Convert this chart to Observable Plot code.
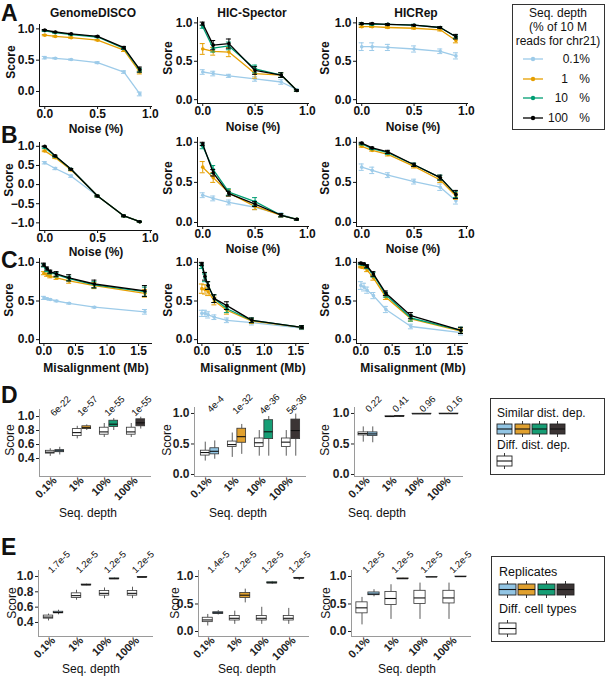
<!DOCTYPE html>
<html>
<head>
<meta charset="utf-8">
<script src="https://cdn.jsdelivr.net/npm/d3@7"></script>
<script src="https://cdn.jsdelivr.net/npm/@observablehq/plot@0.6"></script>
<style>
  html,body{margin:0;padding:0;background:#fff;}
  #fig{position:relative;width:606px;height:677px;overflow:hidden;font-family:"Liberation Sans",Arial,Helvetica,sans-serif;color:#111;}
  #fig svg{overflow:visible;}
  .lbl{position:absolute;white-space:pre;line-height:1;}
  .legend{position:absolute;border:1px solid #333;box-sizing:border-box;background:#fff;}
</style>
</head>
<body>
<div id="fig"></div>
<script>
// ---------------- DATA ----------------
const depths = ["0.1%", "1%", "10%", "100%"];
const lineColors = ["#9dcbe9", "#e69f00", "#009e73", "#000000"];
const boxColors = ["#92c5e4", "#e1a12f", "#169e75", "#3b3434"];
const methods = ["GenomeDISCO", "HIC-Spector", "HICRep"];
const noise = [0, 0.1, 0.25, 0.5, 0.75, 0.9];
const misalign = [0, 0.05, 0.1, 0.2, 0.4, 0.8, 1.6];
const noiseTicks = [0, 0.5, 1];
const misTicks = [0, 0.5, 1, 1.5];
const scoreTicks = [0, 0.5, 1];
const scoreTicksWide = [-1, -0.5, 0, 0.5, 1];
const scoreTicksDisco = [0.4, 0.6, 0.8, 1.0];

// Panel A (noise), rows = depths 0.1%, 1%, 10%, 100%
const A_disco = [[0.54,0.53,0.51,0.46,0.31,-0.04],[0.90,0.88,0.86,0.82,0.66,0.31],[0.97,0.94,0.91,0.87,0.69,0.34],[0.98,0.95,0.92,0.88,0.70,0.35]];
const A_disco_err = [[0.02,0.01,0.01,0.015,0.02,0.03],[0.01,0.01,0.01,0.01,0.02,0.03],[0.01,0.01,0.01,0.01,0.02,0.03],[0.01,0.01,0.01,0.01,0.02,0.04]];
const A_spector = [[0.36,0.34,0.31,0.27,0.23,0.13],[0.66,0.63,0.62,0.34,0.32,0.12],[0.95,0.67,0.70,0.40,0.32,0.12],[0.99,0.71,0.73,0.38,0.32,0.12]];
const A_spector_err = [[0.03,0.03,0.02,0.03,0.03,0.01],[0.07,0.05,0.06,0.06,0.03,0.01],[0.02,0.05,0.05,0.05,0.03,0.01],[0.02,0.06,0.06,0.05,0.03,0.01]];
const A_hicrep = [[0.69,0.69,0.68,0.66,0.63,0.57],[0.95,0.95,0.94,0.93,0.91,0.77],[0.99,0.98,0.98,0.97,0.94,0.82],[0.99,0.99,0.98,0.97,0.94,0.82]];
const A_hicrep_err = [[0.05,0.05,0.04,0.04,0.03,0.04],[0.01,0.01,0.01,0.01,0.015,0.03],[0.01,0.01,0.01,0.01,0.01,0.02],[0.01,0.01,0.01,0.01,0.01,0.03]];

// Panel B (noise, distance-effect corrected)
const B_disco = [[0.57,0.42,0.22,-0.30,-0.82,-0.97],[0.88,0.70,0.38,-0.30,-0.82,-0.97],[0.97,0.74,0.40,-0.30,-0.82,-0.97],[1.00,0.75,0.40,-0.30,-0.82,-0.97]];
const B_disco_err = [[0.03,0.03,0.03,0.02,0.02,0.01],[0.02,0.02,0.02,0.02,0.02,0.01],[0.02,0.02,0.02,0.02,0.02,0.01],[0.01,0.02,0.02,0.02,0.02,0.01]];
const B_spector = [[0.34,0.30,0.25,0.19,0.10,0.04],[0.69,0.56,0.37,0.20,0.09,0.04],[0.95,0.66,0.38,0.26,0.09,0.04],[0.98,0.62,0.36,0.23,0.09,0.04]];
const B_spector_err = [[0.03,0.03,0.03,0.03,0.02,0.01],[0.07,0.06,0.04,0.04,0.02,0.01],[0.03,0.05,0.04,0.05,0.02,0.01],[0.02,0.04,0.03,0.03,0.02,0.01]];
const B_hicrep = [[0.69,0.65,0.59,0.51,0.44,0.27],[0.95,0.90,0.85,0.70,0.53,0.33],[0.98,0.92,0.87,0.72,0.56,0.35],[0.99,0.93,0.88,0.72,0.56,0.35]];
const B_hicrep_err = [[0.04,0.04,0.03,0.03,0.04,0.04],[0.01,0.01,0.02,0.02,0.03,0.04],[0.01,0.01,0.02,0.02,0.03,0.04],[0.01,0.01,0.02,0.02,0.03,0.05]];

// Panel C (misalignment, Mb)
const C_disco = [[0.54,0.53,0.52,0.50,0.47,0.42,0.36],[0.86,0.84,0.82,0.80,0.76,0.70,0.60],[0.96,0.90,0.87,0.84,0.79,0.71,0.62],[0.97,0.92,0.88,0.85,0.80,0.72,0.63]];
const C_disco_err = [[0.02,0.01,0.01,0.01,0.01,0.01,0.03],[0.02,0.02,0.02,0.02,0.03,0.04,0.05],[0.02,0.02,0.02,0.03,0.03,0.04,0.06],[0.02,0.02,0.02,0.03,0.04,0.05,0.07]];
const C_spector = [[0.34,0.34,0.32,0.29,0.25,0.22,0.15],[0.66,0.65,0.62,0.50,0.38,0.24,0.16],[0.95,0.80,0.70,0.53,0.40,0.25,0.16],[0.98,0.82,0.70,0.53,0.44,0.25,0.16]];
const C_spector_err = [[0.04,0.04,0.04,0.03,0.03,0.03,0.02],[0.06,0.06,0.05,0.05,0.05,0.03,0.02],[0.03,0.05,0.05,0.05,0.05,0.03,0.02],[0.02,0.05,0.05,0.05,0.05,0.03,0.02]];
const C_hicrep = [[0.70,0.68,0.64,0.57,0.39,0.17,0.09],[0.94,0.93,0.90,0.80,0.55,0.27,0.11],[0.98,0.97,0.94,0.84,0.58,0.28,0.12],[0.99,0.98,0.95,0.85,0.60,0.31,0.12]];
const C_hicrep_err = [[0.05,0.05,0.04,0.04,0.04,0.03,0.03],[0.01,0.01,0.02,0.03,0.03,0.03,0.03],[0.01,0.01,0.02,0.03,0.03,0.04,0.04],[0.01,0.01,0.02,0.03,0.03,0.04,0.04]];

// Panel D box stats [low whisker, q1, median, q3, high whisker]
const D_disco_diff = [[0.43,0.47,0.49,0.51,0.54],[0.68,0.72,0.77,0.82,0.86],[0.70,0.74,0.78,0.84,0.90],[0.70,0.74,0.78,0.84,0.90]];
const D_disco_sim = [[0.45,0.49,0.51,0.52,0.56],[0.80,0.82,0.84,0.86,0.88],[0.80,0.85,0.89,0.94,0.97],[0.82,0.86,0.91,0.96,0.99]];
const D_spector_diff = [[0.22,0.31,0.36,0.39,0.53],[0.28,0.45,0.49,0.54,0.68],[0.30,0.45,0.52,0.59,0.72],[0.30,0.45,0.53,0.59,0.72]];
const D_spector_sim = [[0.25,0.33,0.38,0.43,0.55],[0.33,0.52,0.62,0.75,0.82],[0.30,0.58,0.70,0.89,0.95],[0.30,0.58,0.72,0.90,0.99]];
const D_hicrep_diff = [[0.53,0.64,0.67,0.69,0.78],[0.94,0.945,0.95,0.955,0.96],[0.99,0.992,0.994,0.996,0.998],[0.995,0.996,0.997,0.998,0.999]];
const D_hicrep_sim = [[0.52,0.63,0.665,0.69,0.78],[0.94,0.95,0.955,0.96,0.965],[0.99,0.992,0.994,0.996,0.998],[0.995,0.996,0.997,0.998,0.999]];
const D_pv_disco = ["6e-22", "1e-57", "1e-55", "1e-55"];
const D_pv_spector = ["4e-4", "1e-32", "4e-36", "5e-36"];
const D_pv_hicrep = ["0.22", "0.41", "0.96", "0.16"];

// Panel E box stats
const E_disco_diff = [[0.42,0.45,0.47,0.49,0.51],[0.69,0.72,0.75,0.78,0.82],[0.71,0.75,0.78,0.81,0.85],[0.71,0.75,0.78,0.81,0.86]];
const E_disco_sim = [[0.50,0.52,0.53,0.54,0.56],[0.88,0.885,0.89,0.895,0.90],[0.96,0.965,0.97,0.975,0.98],[0.985,0.988,0.99,0.992,0.995]];
const E_spector_diff = [[0.10,0.17,0.21,0.25,0.31],[0.13,0.20,0.24,0.28,0.37],[0.13,0.20,0.24,0.28,0.44],[0.13,0.20,0.24,0.28,0.42]];
const E_spector_sim = [[0.30,0.32,0.34,0.35,0.38],[0.52,0.61,0.66,0.70,0.77],[0.86,0.875,0.885,0.895,0.91],[0.93,0.965,0.97,0.975,0.98]];
const E_hicrep_diff = [[0.12,0.33,0.43,0.53,0.62],[0.22,0.48,0.60,0.72,0.85],[0.22,0.50,0.61,0.74,0.88],[0.22,0.51,0.61,0.74,0.88]];
const E_hicrep_sim = [[0.63,0.66,0.68,0.71,0.76],[0.95,0.955,0.96,0.965,0.97],[0.985,0.99,0.99,0.992,0.995],[0.995,0.997,0.998,0.999,1.0]];
const E_pv_disco = ["1.7e-5", "1.2e-5", "1.2e-5", "1.2e-5"];
const E_pv_spector = ["1.4e-5", "1.2e-5", "1.2e-5", "1.2e-5"];
const E_pv_hicrep = ["1.2e-5", "1.2e-5", "1.2e-5", "1.2e-5"];

// ---------------- DRAWING ----------------
const fig = document.getElementById("fig");
const FONT = '"Liberation Sans", Arial, Helvetica, sans-serif';
const fmt1 = d3.format(".1f");

function addText(str, x, y, {size = 12, weight = "normal", rotate = 0, anchor = "middle", color = "#111"} = {}) {
  const d = document.createElement("div");
  d.className = "lbl";
  d.textContent = str;
  const tx = anchor === "middle" ? -50 : anchor === "end" ? -100 : 0;
  d.style.left = x + "px";
  d.style.top = y + "px";
  d.style.fontSize = size + "px";
  d.style.fontWeight = weight;
  d.style.color = color;
  d.style.transform = `translate(${tx}%, -50%) rotate(${rotate}deg)`;
  fig.appendChild(d);
}
function place(el, left, top) {
  el.style.position = "absolute";
  el.style.left = left + "px";
  el.style.top = top + "px";
  fig.appendChild(el);
}

const LM = {l: 42, r: 8, t: 8, b: 22};
function linePanel(g, levels, vals, errs, xDomain, xTicks, yDomain, yTicks, cap) {
  const w = g.x1 - g.x0, h = g.yB - g.yT;
  const marks = [
    Plot.ruleX([xDomain[0]], {stroke: "#111", strokeWidth: 1}),
    Plot.ruleY([yDomain[0]], {stroke: "#111", strokeWidth: 1})
  ];
  depths.forEach((dep, i) => {
    const rows = levels.map((x, j) => ({x, y: vals[i][j], lo: vals[i][j] - errs[i][j], hi: vals[i][j] + errs[i][j]}));
    const c = lineColors[i];
    marks.push(
      Plot.ruleX(rows, {x: "x", y1: "lo", y2: "hi", stroke: c, strokeWidth: 1}),
      Plot.ruleY(rows, {y: "lo", x1: "x", x2: "x", insetLeft: -cap, insetRight: -cap, stroke: c, strokeWidth: 1}),
      Plot.ruleY(rows, {y: "hi", x1: "x", x2: "x", insetLeft: -cap, insetRight: -cap, stroke: c, strokeWidth: 1}),
      Plot.line(rows, {x: "x", y: "y", stroke: c, strokeWidth: 1.3}),
      Plot.dot(rows, {x: "x", y: "y", fill: c, r: 1.8})
    );
  });
  const svg = Plot.plot({
    width: w + LM.l + LM.r, height: h + LM.t + LM.b,
    marginLeft: LM.l, marginRight: LM.r, marginTop: LM.t, marginBottom: LM.b,
    style: {fontFamily: FONT, fontSize: "12px", fontWeight: "bold", color: "#111", background: "transparent", overflow: "visible"},
    x: {domain: xDomain, ticks: xTicks, tickFormat: fmt1, tickSize: 3, tickPadding: 0, label: null},
    y: {domain: yDomain, ticks: yTicks, tickFormat: fmt1, tickSize: 3, tickPadding: 2, label: null},
    marks
  });
  place(svg, g.x0 - LM.l, g.yT - LM.t);
}

const BM = {l: 42, r: 8, t: 30, b: 44};
function boxPanel(g, white, sim, pvals, yDomain, yTicks, boxW, pdy) {
  const w = g.x1 - g.x0, h = g.yB - g.yT;
  const half = w / depths.length / 2;
  const toRows = s => depths.map((cat, i) => ({cat, lo: s[i][0], q1: s[i][1], med: s[i][2], q3: s[i][3], hi: s[i][4]}));
  const wr = toRows(white), sr = toRows(sim);
  const pr = depths.map((cat, i) => ({cat, p: pvals[i]}));
  const boxMarks = (rows, fill, side) => {
    const iL = side < 0 ? half - boxW : half;
    const iR = side < 0 ? half : half - boxW;
    const dx = side * boxW / 2;
    return [
      Plot.ruleX(rows, {x: "cat", y1: "lo", y2: "q1", dx, stroke: "#333", strokeWidth: 0.8}),
      Plot.ruleX(rows, {x: "cat", y1: "q3", y2: "hi", dx, stroke: "#333", strokeWidth: 0.8}),
      Plot.barY(rows, {x: "cat", y1: "q1", y2: "q3", fill, stroke: "#333", strokeWidth: 0.8, insetLeft: iL, insetRight: iR}),
      Plot.tickY(rows, {x: "cat", y: "med", stroke: "#111", strokeWidth: 1.1, insetLeft: iL, insetRight: iR})
    ];
  };
  const svg = Plot.plot({
    width: w + BM.l + BM.r, height: h + BM.t + BM.b,
    marginLeft: BM.l, marginRight: BM.r, marginTop: BM.t, marginBottom: BM.b,
    style: {fontFamily: FONT, fontSize: "11px", color: "#222", background: "transparent", overflow: "visible"},
    x: {type: "band", domain: depths, padding: 0},
    y: {domain: yDomain},
    color: {domain: depths, range: boxColors},
    marks: [
      Plot.frame({anchor: "left", stroke: "#9a9a9a"}),
      Plot.frame({anchor: "bottom", stroke: "#9a9a9a"}),
      Plot.axisY({ticks: yTicks, tickFormat: fmt1, tickSize: 3, tickPadding: 2, fontSize: 12, fontWeight: "bold", label: null}),
      Plot.axisX({tickSize: 0, tickPadding: 2, tickRotate: -45, fontSize: 11, fontWeight: "bold", label: null}),
      ...boxMarks(wr, "white", -1),
      ...boxMarks(sr, "cat", 1),
      Plot.text(pr, {x: "cat", text: "p", frameAnchor: "top", dy: pdy, dx: 3, rotate: -45, fontSize: 9.5, textAnchor: "middle", fill: "#111"})
    ]
  });
  place(svg, g.x0 - BM.l, g.yT - BM.t);
}

// ---- rows A, B, C
const cols = [[39, 152], [197, 309], [356, 468]];
const nx = [-0.05, 1.02], mx = [-0.07, 1.72];
linePanel({x0: cols[0][0], x1: cols[0][1], yT: 24, yB: 106}, noise, A_disco, A_disco_err, nx, noiseTicks, [-0.24, 1.07], scoreTicks, 2.5);
linePanel({x0: cols[1][0], x1: cols[1][1], yT: 17, yB: 103}, noise, A_spector, A_spector_err, nx, noiseTicks, [-0.05, 1.07], scoreTicks, 2.5);
linePanel({x0: cols[2][0], x1: cols[2][1], yT: 17, yB: 103}, noise, A_hicrep, A_hicrep_err, nx, noiseTicks, [-0.05, 1.07], scoreTicks, 2.5);
linePanel({x0: cols[0][0], x1: cols[0][1], yT: 142, yB: 230}, noise, B_disco, B_disco_err, nx, noiseTicks, [-1.2, 1.1], scoreTicksWide, 2.5);
linePanel({x0: cols[1][0], x1: cols[1][1], yT: 137, yB: 226}, noise, B_spector, B_spector_err, nx, noiseTicks, [-0.05, 1.06], scoreTicks, 2.5);
linePanel({x0: cols[2][0], x1: cols[2][1], yT: 137, yB: 226}, noise, B_hicrep, B_hicrep_err, nx, noiseTicks, [-0.05, 1.06], scoreTicks, 2.5);
linePanel({x0: cols[0][0], x1: cols[0][1], yT: 258, yB: 343}, misalign, C_disco, C_disco_err, mx, misTicks, [-0.05, 1.05], scoreTicks, 2.5);
linePanel({x0: cols[1][0], x1: cols[1][1], yT: 258, yB: 343}, misalign, C_spector, C_spector_err, mx, misTicks, [-0.05, 1.05], scoreTicks, 2.5);
linePanel({x0: cols[2][0], x1: cols[2][1], yT: 258, yB: 343}, misalign, C_hicrep, C_hicrep_err, mx, misTicks, [-0.05, 1.05], scoreTicks, 2.5);

// ---- rows D, E
boxPanel({x0: 39, x1: 150, yT: 409, yB: 476}, D_disco_diff, D_disco_sim, D_pv_disco, [0.143, 1.1], scoreTicksDisco, 9.5, -6);
boxPanel({x0: 194, x1: 305, yT: 407, yB: 476}, D_spector_diff, D_spector_sim, D_pv_spector, [-0.033, 1.098], scoreTicks, 9.5, -6);
boxPanel({x0: 354, x1: 462, yT: 407, yB: 476}, D_hicrep_diff, D_hicrep_sim, D_pv_hicrep, [-0.033, 1.098], scoreTicks, 9.5, -6);
boxPanel({x0: 38, x1: 152, yT: 570, yB: 636}, E_disco_diff, E_disco_sim, E_pv_disco, [0.217, 1.078], scoreTicksDisco, 10, -11);
boxPanel({x0: 198, x1: 308, yT: 570, yB: 636}, E_spector_diff, E_spector_sim, E_pv_spector, [-0.091, 1.109], scoreTicks, 10.5, -11);
boxPanel({x0: 351, x1: 470, yT: 570, yB: 636}, E_hicrep_diff, E_hicrep_sim, E_pv_hicrep, [-0.091, 1.109], scoreTicks, 12, -11);

// ---- titles, letters, axis titles
addText(methods[0], 93, 13, {weight: "bold"});
addText(methods[1], 252, 13, {weight: "bold"});
addText(methods[2], 416, 13, {weight: "bold"});
[["A", 13], ["B", 135], ["C", 260], ["D", 395], ["E", 547]].forEach(([t, y]) => addText(t, 1, y, {size: 23, weight: "bold", anchor: "start"}));
[[11, 62], [168, 58], [325, 58], [9, 180], [168, 178], [325, 178], [9, 300], [168, 300], [325, 300]].forEach(([x, y]) => addText("Score", x, y, {weight: "bold", rotate: -90}));
[[96, 129], [253, 127], [413, 127], [96, 252], [253, 249], [413, 249]].forEach(([x, y]) => addText("Noise (%)", x, y, {weight: "bold"}));
[[96, 368], [253, 368], [413, 368]].forEach(([x, y]) => addText("Misalignment (Mb)", x, y, {weight: "bold"}));
[[10, 440], [167, 440], [325, 440], [12, 603], [175, 603], [326, 603]].forEach(([x, y]) => addText("Score", x, y, {rotate: -90}));
[[88, 513], [238, 513], [377, 513], [91, 669], [247, 669], [407, 669]].forEach(([x, y]) => addText("Seq. depth", x, y));

// ---- legends
function legendBox(l, t, w, h) {
  const d = document.createElement("div");
  d.className = "legend";
  d.style.left = l + "px"; d.style.top = t + "px"; d.style.width = w + "px"; d.style.height = h + "px";
  fig.appendChild(d);
}
// Legend A
legendBox(512, 4, 93, 126);
addText("Seq. depth", 558, 13);
addText("(% of 10 M", 558, 27);
addText("reads for chr21)", 558, 41);
depths.forEach((dep, i) => {
  const y = 59 + i * 19.7;
  const s = d3.create("svg").attr("width", 24).attr("height", 8);
  s.append("line").attr("x1", 1).attr("x2", 21).attr("y1", 4).attr("y2", 4).attr("stroke", lineColors[i]).attr("stroke-width", 1.3);
  s.append("circle").attr("cx", 11).attr("cy", 4).attr("r", 2.2).attr("fill", lineColors[i]);
  place(s.node(), 522, y - 4);
  const num = dep.replace("%", "");
  if (num.includes(".")) addText(dep, 590, y, {anchor: "end"});
  else { addText(num, 568, y, {anchor: "end"}); addText("%", 590, y, {anchor: "end"}); }
});
function glyph(x, y, w, bh, wh, fill) {
  const s = d3.create("svg").attr("width", w + 2).attr("height", bh + 2 * wh + 2);
  const cx = 1 + w / 2;
  s.append("line").attr("x1", cx).attr("x2", cx).attr("y1", 1).attr("y2", 1 + bh + 2 * wh).attr("stroke", "#222").attr("stroke-width", 0.9);
  s.append("rect").attr("x", 1).attr("y", 1 + wh).attr("width", w).attr("height", bh).attr("fill", fill).attr("stroke", "#222").attr("stroke-width", 0.9);
  s.append("line").attr("x1", 1).attr("x2", 1 + w).attr("y1", 1 + wh + bh / 2).attr("y2", 1 + wh + bh / 2).attr("stroke", "#111").attr("stroke-width", 1.1);
  place(s.node(), x - 1, y - 1);
}
// Legend D
legendBox(490, 398, 115, 77);
addText("Similar dist. dep.", 497, 413, {anchor: "start"});
boxColors.forEach((c, i) => glyph(497 + i * 17.6, 421, 15, 10, 3, c));
addText("Diff. dist. dep.", 497, 445, {anchor: "start"});
glyph(497, 453, 15, 10, 3, "white");
// Legend E
legendBox(491, 556, 114, 86);
addText("Replicates", 499, 572, {anchor: "start", size: 12.5});
boxColors.forEach((c, i) => glyph(499 + i * 19.3, 581, 17, 11, 3, c));
addText("Diff. cell types", 499, 609, {anchor: "start", size: 12.5});
glyph(499, 620, 17, 11, 3, "white");
</script>
</body>
</html>
